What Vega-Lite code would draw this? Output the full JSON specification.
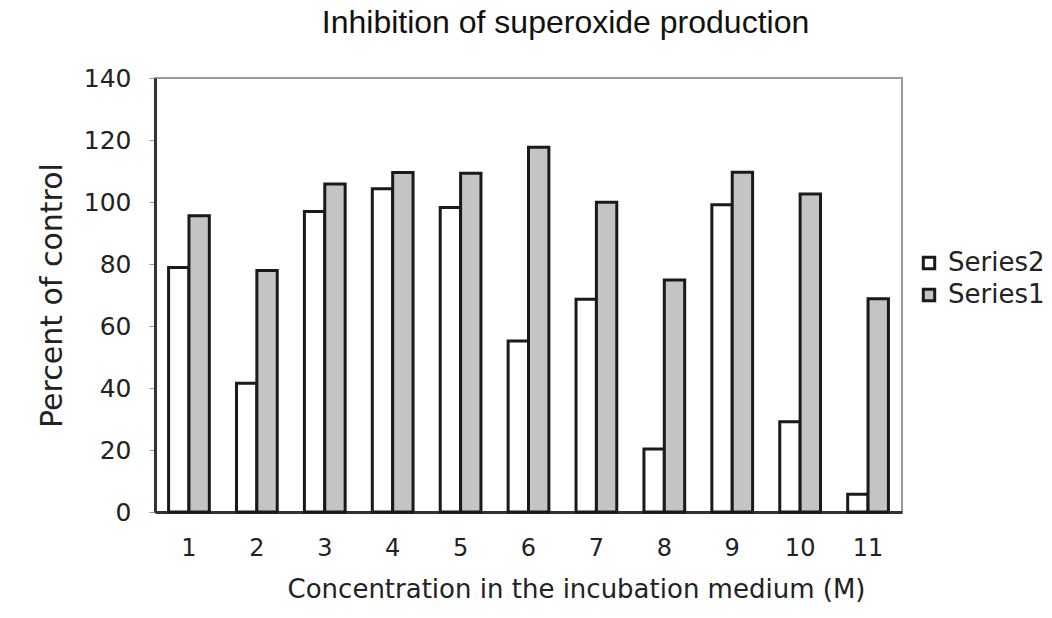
{
  "$schema": "https://vega.github.io/schema/vega-lite/v6.json",
  "width": 747,
  "height": 434,
  "autosize": {"type": "none"},
  "padding": {"left": 155, "top": 78, "right": 150, "bottom": 106},
  "background": "white",
  "title": {
    "text": "Inhibition of superoxide production",
    "font": "Liberation Sans",
    "fontSize": 32,
    "fontWeight": "normal",
    "color": "#111",
    "anchor": "middle",
    "dx": 37,
    "offset": 26
  },
  "data": {
    "values": [
      {"conc": 1, "series": "Series2", "value": 78.9},
      {"conc": 1, "series": "Series1", "value": 95.6},
      {"conc": 2, "series": "Series2", "value": 41.5},
      {"conc": 2, "series": "Series1", "value": 77.9},
      {"conc": 3, "series": "Series2", "value": 96.9},
      {"conc": 3, "series": "Series1", "value": 105.8},
      {"conc": 4, "series": "Series2", "value": 104.3},
      {"conc": 4, "series": "Series1", "value": 109.5},
      {"conc": 5, "series": "Series2", "value": 98.2},
      {"conc": 5, "series": "Series1", "value": 109.3},
      {"conc": 6, "series": "Series2", "value": 55.2},
      {"conc": 6, "series": "Series1", "value": 117.7},
      {"conc": 7, "series": "Series2", "value": 68.6},
      {"conc": 7, "series": "Series1", "value": 99.9},
      {"conc": 8, "series": "Series2", "value": 20.3},
      {"conc": 8, "series": "Series1", "value": 74.8},
      {"conc": 9, "series": "Series2", "value": 99.1},
      {"conc": 9, "series": "Series1", "value": 109.6},
      {"conc": 10, "series": "Series2", "value": 29.1},
      {"conc": 10, "series": "Series1", "value": 102.6},
      {"conc": 11, "series": "Series2", "value": 5.7},
      {"conc": 11, "series": "Series1", "value": 68.8}
    ]
  },
  "mark": {"type": "bar", "stroke": "#1a1a1a", "strokeWidth": 3},
  "encoding": {
    "x": {
      "field": "conc",
      "type": "ordinal",
      "scale": {"paddingInner": 0.4, "paddingOuter": 0.2},
      "axis": {
        "title": "Concentration in the incubation medium (M)",
        "labelAngle": 0,
        "ticks": false,
        "labelPadding": 24,
        "titlePadding": 16,
        "titleX": 421,
        "titleAlign": "center",
        "domainColor": "#333",
        "domainWidth": 3,
        "labelFont": "DejaVu Sans",
        "labelFontSize": 24,
        "labelColor": "#222",
        "titleFont": "DejaVu Sans",
        "titleFontSize": 26,
        "titleFontWeight": "normal",
        "titleColor": "#222"
      }
    },
    "xOffset": {"field": "series", "type": "nominal", "sort": ["Series2", "Series1"]},
    "y": {
      "field": "value",
      "type": "quantitative",
      "scale": {"domain": [0, 140]},
      "axis": {
        "title": "Percent of control",
        "values": [0, 20, 40, 60, 80, 100, 120, 140],
        "grid": false,
        "tickSize": 6,
        "tickColor": "#999",
        "labelPadding": 18,
        "titlePadding": 16,
        "domainColor": "#333",
        "domainWidth": 3,
        "labelFont": "DejaVu Sans",
        "labelFontSize": 25,
        "labelColor": "#222",
        "titleFont": "DejaVu Sans",
        "titleFontSize": 30,
        "titleFontWeight": "normal",
        "titleColor": "#222"
      }
    },
    "color": {
      "field": "series",
      "type": "nominal",
      "scale": {"domain": ["Series2", "Series1"], "range": ["#ffffff", "#c4c4c4"]},
      "legend": {
        "title": null,
        "orient": "none",
        "legendX": 761,
        "legendY": 172,
        "symbolType": "square",
        "symbolSize": 130,
        "symbolStrokeColor": "#1a1a1a",
        "symbolStrokeWidth": 3,
        "labelFont": "DejaVu Sans",
        "labelFontSize": 26,
        "labelColor": "#222",
        "rowPadding": 6,
        "labelOffset": 6
      }
    }
  },
  "config": {
    "view": {"stroke": "#9a9a9a", "strokeWidth": 2}
  }
}
